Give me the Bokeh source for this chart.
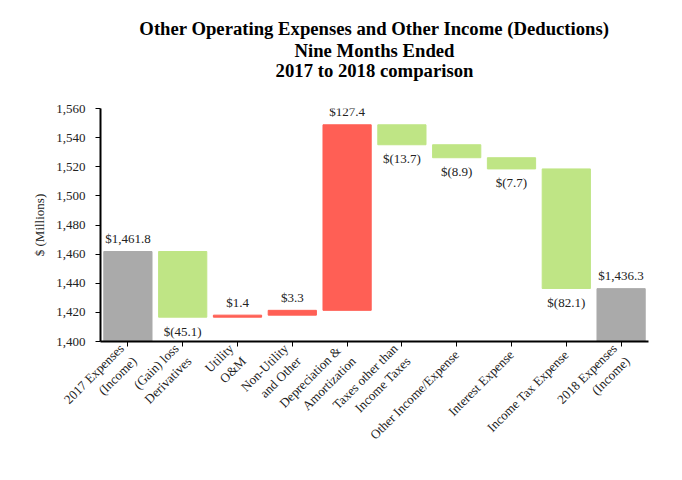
import math
from bokeh.plotting import figure
from bokeh.models import ColumnDataSource, FactorRange, Range1d, FixedTicker, NumeralTickFormatter, LabelSet, Title
from bokeh.embed import file_html
from bokeh.resources import INLINE

categories = [
    "2017 Expenses\n(Income)",
    "(Gain) loss\nDerivatives",
    "Utility\nO&M",
    "Non-Utility\nand Other",
    "Depreciation  &\nAmortization",
    "Taxes other than\nIncome Taxes",
    "Other Income/Expense",
    "Interest Expense",
    "Income Tax Expense",
    "2018 Expenses\n(Income)",
]
amounts = [1461.8, -45.1, 1.4, 3.3, 127.4, -13.7, -8.9, -7.7, -82.1, 1436.3]
kinds = ["total", "delta", "delta", "delta", "delta", "delta", "delta", "delta", "delta", "total"]
bar_labels = ["$1,461.8", "$(45.1)", "$1.4", "$3.3", "$127.4", "$(13.7)", "$(8.9)", "$(7.7)", "$(82.1)", "$1,436.3"]
y_ticks = [1400, 1420, 1440, 1460, 1480, 1500, 1520, 1540, 1560]
y_min, y_max = 1400, 1560
title_lines = ["Other Operating Expenses and Other Income (Deductions)",
               "Nine Months Ended",
               "2017 to 2018 comparison"]

GRAY = "#AAAAAA"
RED = "#FF5F55"
GREEN = "#BFE585"
FONT = "Liberation Serif"

bottoms, tops, colors, label_y, label_off = [], [], [], [], []
running = 0.0
for amt, kind in zip(amounts, kinds):
    if kind == "total":
        b, t = y_min, amt
        running = amt
        c = GRAY
        label_y.append(t); label_off.append(13)
    else:
        start = running
        running = running + amt
        b, t = min(start, running), max(start, running)
        if amt >= 0:
            c = RED
            label_y.append(t); label_off.append(13)
        else:
            c = GREEN
            label_y.append(b); label_off.append(-14)
    bottoms.append(b); tops.append(t); colors.append(c)

src = ColumnDataSource(dict(x=categories, bottom=bottoms, top=tops, color=colors,
                            ly=label_y, loff=label_off, txt=bar_labels))

p = figure(x_range=FactorRange(*categories, range_padding=0.0),
           y_range=Range1d(y_min, y_max), title=None,
           width=666, height=464, output_backend="svg", toolbar_location=None,
           min_border_left=100, min_border_right=18, min_border_bottom=123, min_border_top=108)

# spacer between the plot frame and the title block
p.add_layout(Title(text=" ", text_font_size="1px", standoff=25), "above")
standoffs = [4, -6, 0]
for line, so in reversed(list(zip(title_lines, standoffs))):
    p.add_layout(Title(text=line, align="center", text_font=FONT, text_font_size="18.7px",
                       text_font_style="bold", text_color="black", standoff=so), "above")

p.vbar(x="x", bottom="bottom", top="top", width=0.88, color="color", line_color="color", source=src)
p.add_layout(LabelSet(x="x", y="ly", text="txt", y_offset="loff", source=src,
                      text_font=FONT, text_font_size="13px", text_align="center",
                      text_baseline="middle", text_color="#222222"))

p.outline_line_color = None
p.xgrid.grid_line_color = None
p.ygrid.grid_line_color = None

for ax in (p.xaxis, p.yaxis):
    ax.axis_line_color = "black"
    ax.axis_line_width = 2
    ax.major_tick_line_color = "black"
    ax.major_tick_out = 5
    ax.major_tick_in = 0
    ax.minor_tick_line_color = None
    ax.major_label_text_font = FONT
    ax.major_label_text_font_size = "13px"
    ax.major_label_text_color = "#222222"

p.yaxis.ticker = FixedTicker(ticks=y_ticks)
p.yaxis.formatter = NumeralTickFormatter(format="0,0")
p.yaxis.axis_label = "$ (Millions)"
p.yaxis.axis_label_text_font = FONT
p.yaxis.axis_label_text_font_size = "13px"
p.yaxis.axis_label_text_font_style = "normal"
p.yaxis.axis_label_text_color = "#222222"
p.yaxis.axis_label_standoff = 6
p.yaxis.major_label_standoff = 10

p.xaxis.major_label_orientation = math.pi / 4
p.xaxis.major_label_standoff = 6
p.xaxis.major_label_text_align = "center"

open("out.html", "w").write(file_html(p, INLINE))
